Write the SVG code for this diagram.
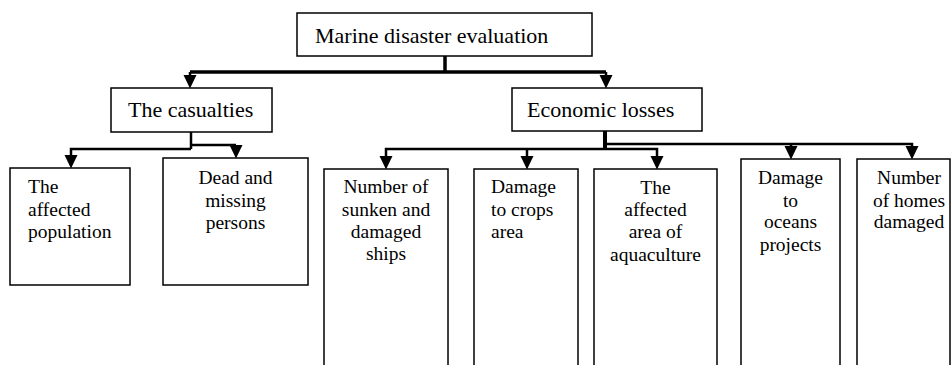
<svg xmlns="http://www.w3.org/2000/svg" width="951" height="365" viewBox="0 0 951 365">
<style>
.box{fill:#fff;stroke:#000;stroke-width:1.5}
.t1{font-family:"Liberation Serif","Times New Roman",serif;font-size:22px;fill:#000}
.t2{font-family:"Liberation Serif","Times New Roman",serif;font-size:19.5px;fill:#000}
.c{text-anchor:middle}
.ln{fill:none;stroke:#000;stroke-width:2.5;marker-end:url(#ah)}
.thick{stroke-width:3.5}
</style>
<defs>
<marker id="ah" markerUnits="userSpaceOnUse" markerWidth="13" markerHeight="14" viewBox="0 0 13 14" refX="6.5" refY="0" overflow="visible">
<path d="M0,0 L13,0 L6.5,13.5 Z" fill="#000"/>
</marker>
</defs>
<rect width="951" height="365" fill="#fff"/>
<g id="connectors">
<path class="ln thick" d="M445 56 V72" style="marker-end:none"/>
<path class="ln thick" d="M190 72 H606" style="marker-end:none"/>
<path class="ln" d="M190 72 V75"/>
<path class="ln" d="M606 72 V75"/>
<path class="ln" d="M191 132 V149" style="marker-end:none"/>
<path class="ln" d="M191 149 H71 V155"/>
<path class="ln" d="M191 145 H236"/>
<path class="ln thick" d="M605 131 V149" style="marker-end:none;stroke-width:4"/>
<path class="ln" d="M605 149 H386 V156"/>
<path class="ln" d="M527 149 V156"/>
<path class="ln" d="M605 149 H657 V156"/>
<path class="ln" d="M605 144 H912 V146"/>
<path class="ln" d="M791 144 V146"/>
</g>
<g id="root">
<rect class="box" x="297" y="13" width="295" height="43"/>
<text class="t1" x="315" y="43">Marine disaster evaluation</text>
</g>
<g id="casualties">
<rect class="box" x="111" y="88" width="161" height="44"/>
<text class="t1" x="128" y="117">The casualties</text>
</g>
<g id="economic">
<rect class="box" x="512" y="88" width="190" height="43"/>
<text class="t1" x="527" y="117">Economic losses</text>
</g>
<g id="affected-population">
<rect class="box" x="10" y="168" width="120" height="117"/>
<text class="t2" x="28" y="193">The</text>
<text class="t2" x="28" y="216">affected</text>
<text class="t2" x="28" y="238">population</text>
</g>
<g id="dead-missing">
<rect class="box" x="163" y="158" width="145" height="127"/>
<text class="t2 c" x="235.5" y="184">Dead and</text>
<text class="t2 c" x="235.5" y="207">missing</text>
<text class="t2 c" x="235.5" y="229">persons</text>
</g>
<g id="ships">
<rect class="box" x="324" y="169" width="124" height="220"/>
<text class="t2 c" x="386" y="193">Number of</text>
<text class="t2 c" x="386" y="216">sunken and</text>
<text class="t2 c" x="386" y="238">damaged</text>
<text class="t2 c" x="386" y="260">ships</text>
</g>
<g id="crops">
<rect class="box" x="474" y="169" width="104" height="220"/>
<text class="t2" x="491" y="193">Damage</text>
<text class="t2" x="491" y="216">to crops</text>
<text class="t2" x="491" y="238">area</text>
</g>
<g id="aquaculture">
<rect class="box" x="594" y="169" width="123" height="220"/>
<text class="t2 c" x="655.5" y="194">The</text>
<text class="t2 c" x="655.5" y="216">affected</text>
<text class="t2 c" x="655.5" y="238">area of</text>
<text class="t2 c" x="655.5" y="261">aquaculture</text>
</g>
<g id="oceans">
<rect class="box" x="741" y="159" width="99" height="230"/>
<text class="t2 c" x="790.5" y="184">Damage</text>
<text class="t2 c" x="790.5" y="207">to</text>
<text class="t2 c" x="790.5" y="228">oceans</text>
<text class="t2 c" x="790.5" y="251">projects</text>
</g>
<g id="homes">
<rect class="box" x="857" y="159" width="93" height="230"/>
<text class="t2 c" x="909" y="184">Number</text>
<text class="t2 c" x="909" y="207">of homes</text>
<text class="t2 c" x="909" y="228">damaged</text>
</g>
</svg>
